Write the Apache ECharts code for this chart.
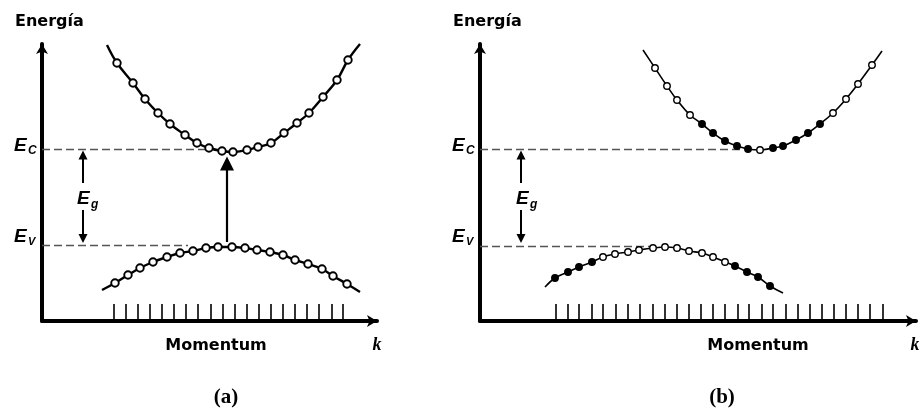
<!DOCTYPE html>
<html><head><meta charset="utf-8">
<script src="https://cdn.jsdelivr.net/npm/echarts@6/dist/echarts.min.js"></script>
<style>html,body{margin:0;padding:0;background:#fff}#c{width:919px;height:409px}</style>
</head><body><div id="c"></div>
<script>
// ---------- Panel (a): direct gap ----------
const ecLevel = 172;
const evLevelA = 76;
const evLevelB = 75;

const cbAk = [75, 91, 103, 116, 128, 143, 155, 167, 180, 191, 205, 216, 229, 242, 255, 267, 281, 295, 306];
const cbAE = [258, 238, 222, 208, 197, 186, 178, 173, 170, 169, 171, 174, 178, 188, 198, 208, 224, 241, 261];
const cbAEnds = [[65, 276], [318, 277]];

const vbAk = [73, 86, 98, 111, 125, 138, 151, 164, 176, 190, 203, 215, 228, 241, 253, 266, 280, 291, 305];
const vbAE = [38, 46, 53, 59, 64, 68, 70, 73, 74, 74, 73, 71, 69, 66, 61, 57, 52, 45, 37];
const vbAEnds = [[60, 31], [318, 29]];

const ticksA = [72, 84, 96, 108, 120, 132, 144, 156, 169, 181, 193, 205, 217, 229, 241, 253, 265, 277, 290, 301];

// ---------- Panel (b): indirect gap ----------
const cbBk = [175, 187, 197, 210, 222, 233, 245, 257, 268, 280, 293, 303, 316, 328, 340, 353, 366, 378, 392];
const cbBE = [253, 235, 221, 206, 197, 188, 180, 175, 172, 171, 173, 175, 181, 188, 197, 208, 222, 237, 256];
const cbBFilled = [0, 0, 0, 0, 1, 1, 1, 1, 1, 0, 1, 1, 1, 1, 1, 0, 0, 0, 0];
const cbBEnds = [[163, 271], [402, 270]];

const vbBk = [75, 88, 99, 112, 123, 135, 148, 159, 173, 185, 197, 209, 222, 233, 245, 255, 267, 278, 290];
const vbBE = [43, 49, 54, 59, 64, 67, 69, 71, 73, 74, 73, 70, 68, 64, 59, 55, 49, 44, 35];
const vbBFilled = [1, 1, 1, 1, 0, 0, 0, 0, 0, 0, 0, 0, 0, 0, 0, 1, 1, 1, 1];
const vbBEnds = [[65, 34], [303, 28]];

const ticksB = [76, 88, 99, 112, 123, 136, 148, 160, 173, 185, 197, 209, 221, 233, 245, 258, 269, 282, 293, 306, 318, 330, 342, 354, 366, 378, 390, 403];

// arrows / guide lines (k, E)
const dashA = [[[0, ecLevel], [168, ecLevel]], [[0, evLevelA], [146, evLevelA]]];
const dashB = [[[0, ecLevel], [262, ecLevel]], [[0, evLevelB], [180, evLevelB]]];
const egUp = [[41, 138], [41, 166]];
const egDown = [[41, 111], [41, 82.5]];
const transitionA = [[185, 79], [185, 157.5]];

const pairs = (k, E) => k.map((v, i) => [v, E[i]]);

function markerData(k, E, filled) {
  return k.map((v, i) => ({
    value: [v, E[i]],
    itemStyle: (filled && filled[i]) ? { color: '#000', borderColor: '#000', opacity: 1 } : { color: '#fff', borderColor: '#000', opacity: 1 }
  }));
}

function axisPair(idx, maxX) {
  const common = { axisTick: { show: false }, axisLabel: { show: false }, splitLine: { show: false } };
  return {
    x: Object.assign({ type: 'value', gridIndex: idx, min: 0, max: maxX,
      axisLine: { onZero: false, lineStyle: { color: '#000', width: 4 }, symbol: ['none', 'arrow'], symbolSize: [9, 10] } }, common),
    y: Object.assign({ type: 'value', gridIndex: idx, min: 0, max: 277,
      axisLine: { onZero: false, lineStyle: { color: '#000', width: 4 }, symbol: ['none', 'arrow'], symbolSize: [9, 10] } }, common)
  };
}
const axA = axisPair(0, 335), axB = axisPair(1, 436);

function panelSeries(idx, cbk, cbE, cbEnds, cbFilled, vbk, vbE, vbEnds, vbFilled, ticks, dash, lw, ms, bw) {
  const base = { xAxisIndex: idx, yAxisIndex: idx, silent: true };
  return [
    Object.assign({ type: 'lines', coordinateSystem: 'cartesian2d', polyline: false,
      lineStyle: { color: '#555', width: 1.3, type: [8, 4], opacity: 1 }, symbol: ['none', 'none'],
      data: dash.map(c => ({ coords: c })) }, base),
    Object.assign({ type: 'line', smooth: 0.4, symbol: 'none', lineStyle: { color: '#000', width: lw },
      data: [cbEnds[0]].concat(pairs(cbk, cbE), [cbEnds[1]]) }, base),
    Object.assign({ type: 'line', smooth: 0.4, symbol: 'none', lineStyle: { color: '#000', width: lw },
      data: [vbEnds[0]].concat(pairs(vbk, vbE), [vbEnds[1]]) }, base),
    Object.assign({ type: 'scatter', symbol: 'circle', symbolSize: ms, itemStyle: { borderWidth: bw, opacity: 1 },
      data: markerData(cbk, cbE, cbFilled), z: 5 }, base),
    Object.assign({ type: 'scatter', symbol: 'circle', symbolSize: ms, itemStyle: { borderWidth: bw, opacity: 1 },
      data: markerData(vbk, vbE, vbFilled), z: 5 }, base),
    Object.assign({ type: 'scatter', symbol: 'rect', symbolSize: [1.6, 16], symbolOffset: [0, -9],
      itemStyle: { color: '#000', opacity: 1 }, data: ticks.map(t => [t, 0]) }, base),
    Object.assign({ type: 'lines', coordinateSystem: 'cartesian2d',
      lineStyle: { color: '#000', width: 2, opacity: 1 }, symbol: ['none', 'triangle'], symbolSize: [7, 9],
      data: [{ coords: egUp }, { coords: egDown }] }, base)
  ];
}

const series = []
  .concat(panelSeries(0, cbAk, cbAE, cbAEnds, null, vbAk, vbAE, vbAEnds, null, ticksA, dashA, 2.4, 7.5, 1.9))
  .concat(panelSeries(1, cbBk, cbBE, cbBEnds, cbBFilled, vbBk, vbBE, vbBEnds, vbBFilled, ticksB, dashB, 1.6, 6.5, 1.4));
series.push({ type: 'lines', coordinateSystem: 'cartesian2d', xAxisIndex: 0, yAxisIndex: 0, silent: true,
  lineStyle: { color: '#000', width: 2.2, opacity: 1 }, symbol: ['none', 'triangle'], symbolSize: [17, 14],
  data: [{ coords: transitionA }] });

const sansB = { fontFamily: 'DejaVu Sans', fontWeight: 'bold', fill: '#000' };
const itl = { fontFamily: 'Liberation Sans', fontWeight: 'bold', fontStyle: 'italic', fill: '#000' };
function txt(x, y, s, st, size, align) {
  return { type: 'text', x: x, y: y, silent: true,
    style: Object.assign({ text: s, fontSize: size, align: align || 'left', verticalAlign: 'middle' }, st) };
}
const graphics = [];
[0, 438].forEach((dx, p) => {
  graphics.push(txt(15 + dx, 22, 'Energía', sansB, 16));
  graphics.push(txt(14 + dx, 146, 'E', itl, 19));
  graphics.push(txt(28 + dx, 151, 'C', itl, 12));
  graphics.push(txt(14 + dx, 237, 'E', itl, 19));
  graphics.push(txt(28 + dx, 242, 'V', itl, 11));
  graphics.push(txt(77 + dx + (p ? 1 : 0), 199, 'E', itl, 19));
  graphics.push(txt(91 + dx + (p ? 1 : 0), 205, 'g', itl, 12));
});
graphics.push(txt(216, 346, 'Momentum', sansB, 16, 'center'));
graphics.push(txt(758, 346, 'Momentum', sansB, 16, 'center'));
graphics.push(txt(377, 345, 'k', { fontFamily: 'Liberation Serif', fontWeight: 'bold', fontStyle: 'italic', fill: '#000' }, 18, 'center'));
graphics.push(txt(915, 345, 'k', { fontFamily: 'Liberation Serif', fontWeight: 'bold', fontStyle: 'italic', fill: '#000' }, 18, 'center'));
graphics.push(txt(226, 398, '(a)', { fontFamily: 'Liberation Serif', fontWeight: 'bold', fill: '#000' }, 21, 'center'));
graphics.push(txt(722, 398, '(b)', { fontFamily: 'Liberation Serif', fontWeight: 'bold', fill: '#000' }, 21, 'center'));

const chart = echarts.init(document.getElementById('c'), null, { renderer: 'canvas' });
chart.setOption({
  animation: false,
  backgroundColor: '#fff',
  grid: [
    { left: 42, top: 44, width: 335, height: 277 },
    { left: 480, top: 44, width: 436, height: 277 }
  ],
  xAxis: [axA.x, axB.x],
  yAxis: [axA.y, axB.y],
  series: series,
  graphic: graphics
});
</script></body></html>
